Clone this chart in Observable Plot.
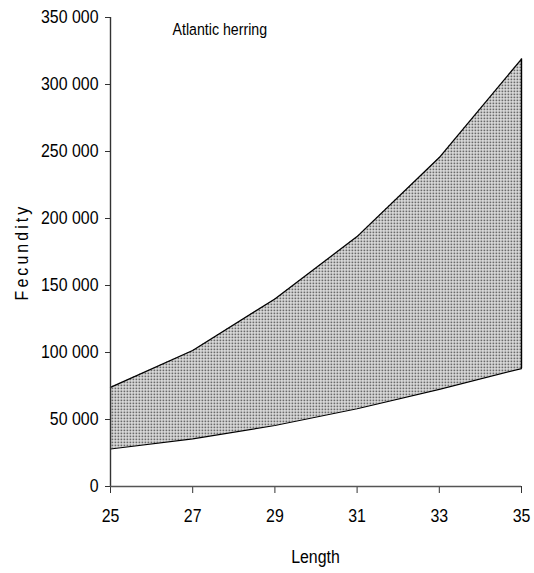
<!DOCTYPE html>
<html>
<head>
<meta charset="utf-8">
<script src="https://cdn.jsdelivr.net/npm/d3@7"></script>
<script src="https://cdn.jsdelivr.net/npm/@observablehq/plot@0.6"></script>
<style>
  html, body { margin: 0; padding: 0; background: #fff; }
  #chart svg { display: block; }
</style>
</head>
<body>
<div id="chart"></div>
<script>
const lengths = [25, 27, 29, 31, 33, 35];
const lowerFecundity = [28000, 35500, 45500, 58000, 72500, 88000];
const upperFecundity = [74000, 101500, 140000, 186500, 245500, 319000];
const yTicks = [0, 50000, 100000, 150000, 200000, 250000, 300000, 350000];
const xTicks = [25, 27, 29, 31, 33, 35];
const titleText = "Atlantic herring";

const data = lengths.map((L, i) => ({length: L, lower: lowerFecundity[i], upper: upperFecundity[i]}));
const fmt = n => d3.format(",")(n).replace(/,/g, " ");
const font = "'Liberation Sans', Arial, sans-serif";

const chart = Plot.plot({
  width: 534,
  height: 573,
  marginLeft: 110,
  marginRight: 13,
  marginTop: 17,
  marginBottom: 87,
  style: {fontFamily: font, fontSize: "18.5px", color: "#000", background: "#fff"},
  x: {domain: [25, 35], ticks: xTicks, tickSize: 7, tickPadding: 15, label: null, tickFormat: d => String(d)},
  y: {domain: [0, 350000], ticks: yTicks, tickSize: 5, tickPadding: 7, tickFormat: fmt, label: null},
  marks: [
    Plot.areaY(data, {x: "length", y1: "lower", y2: "upper", fill: "url(#dots)"}),
    Plot.lineY(data, {x: "length", y: "upper", stroke: "#000", strokeWidth: 1.2}),
    Plot.lineY(data, {x: "length", y: "lower", stroke: "#000", strokeWidth: 1.2}),
    Plot.ruleX(data.slice(-1), {x: "length", y1: "lower", y2: "upper", stroke: "#000", strokeWidth: 1.4}),
    Plot.ruleX([25], {stroke: "#333", strokeWidth: 1.4}),
    Plot.ruleY([0], {stroke: "#555", strokeWidth: 1.6}),
    Plot.text([titleText], {frameAnchor: "top-left", dx: 62, dy: 6, fontSize: 16.5, textAnchor: "start"}),
    Plot.text(["Fecundity"], {frameAnchor: "left", dx: -88, rotate: -90, fontSize: 18.5, textAnchor: "middle"})
  ]
});

// pattern defs
const ns = "http://www.w3.org/2000/svg";
const defs = document.createElementNS(ns, "defs");
const pat = document.createElementNS(ns, "pattern");
pat.setAttribute("id", "dots");
pat.setAttribute("patternUnits", "userSpaceOnUse");
pat.setAttribute("width", "3");
pat.setAttribute("height", "3");
const bg = document.createElementNS(ns, "rect");
bg.setAttribute("width", "3"); bg.setAttribute("height", "3"); bg.setAttribute("fill", "#e4e4e4");
const dot = document.createElementNS(ns, "rect");
dot.setAttribute("x", "0.5"); dot.setAttribute("y", "0.5");
dot.setAttribute("width", "1.8"); dot.setAttribute("height", "1.8"); dot.setAttribute("fill", "#6a6a6a");
pat.appendChild(bg); pat.appendChild(dot);
defs.appendChild(pat);
chart.insertBefore(defs, chart.firstChild);

d3.select(chart).selectAll("text").filter(function(){ return this.textContent === "Fecundity"; })
  .attr("letter-spacing", "3.6");

d3.select(chart).append("text")
  .attr("x", (110 + 521) / 2).attr("y", 563)
  .attr("text-anchor", "middle").attr("font-size", 18.5).attr("font-family", font)
  .text("Length");

d3.select(chart).selectAll("[aria-label='x-axis tick'] path, [aria-label='y-axis tick'] path").attr("stroke", "#333");

// condense all text horizontally (narrow font look)
const s = 0.86;
d3.select(chart).selectAll("text").each(function() {
  const x = parseFloat(this.getAttribute("x")) || 0;
  const t = this.getAttribute("transform") || "";
  this.setAttribute("transform", `${t} translate(${x},0) scale(${s},1) translate(${-x},0)`);
});

document.getElementById("chart").appendChild(chart);
</script>
</body>
</html>
